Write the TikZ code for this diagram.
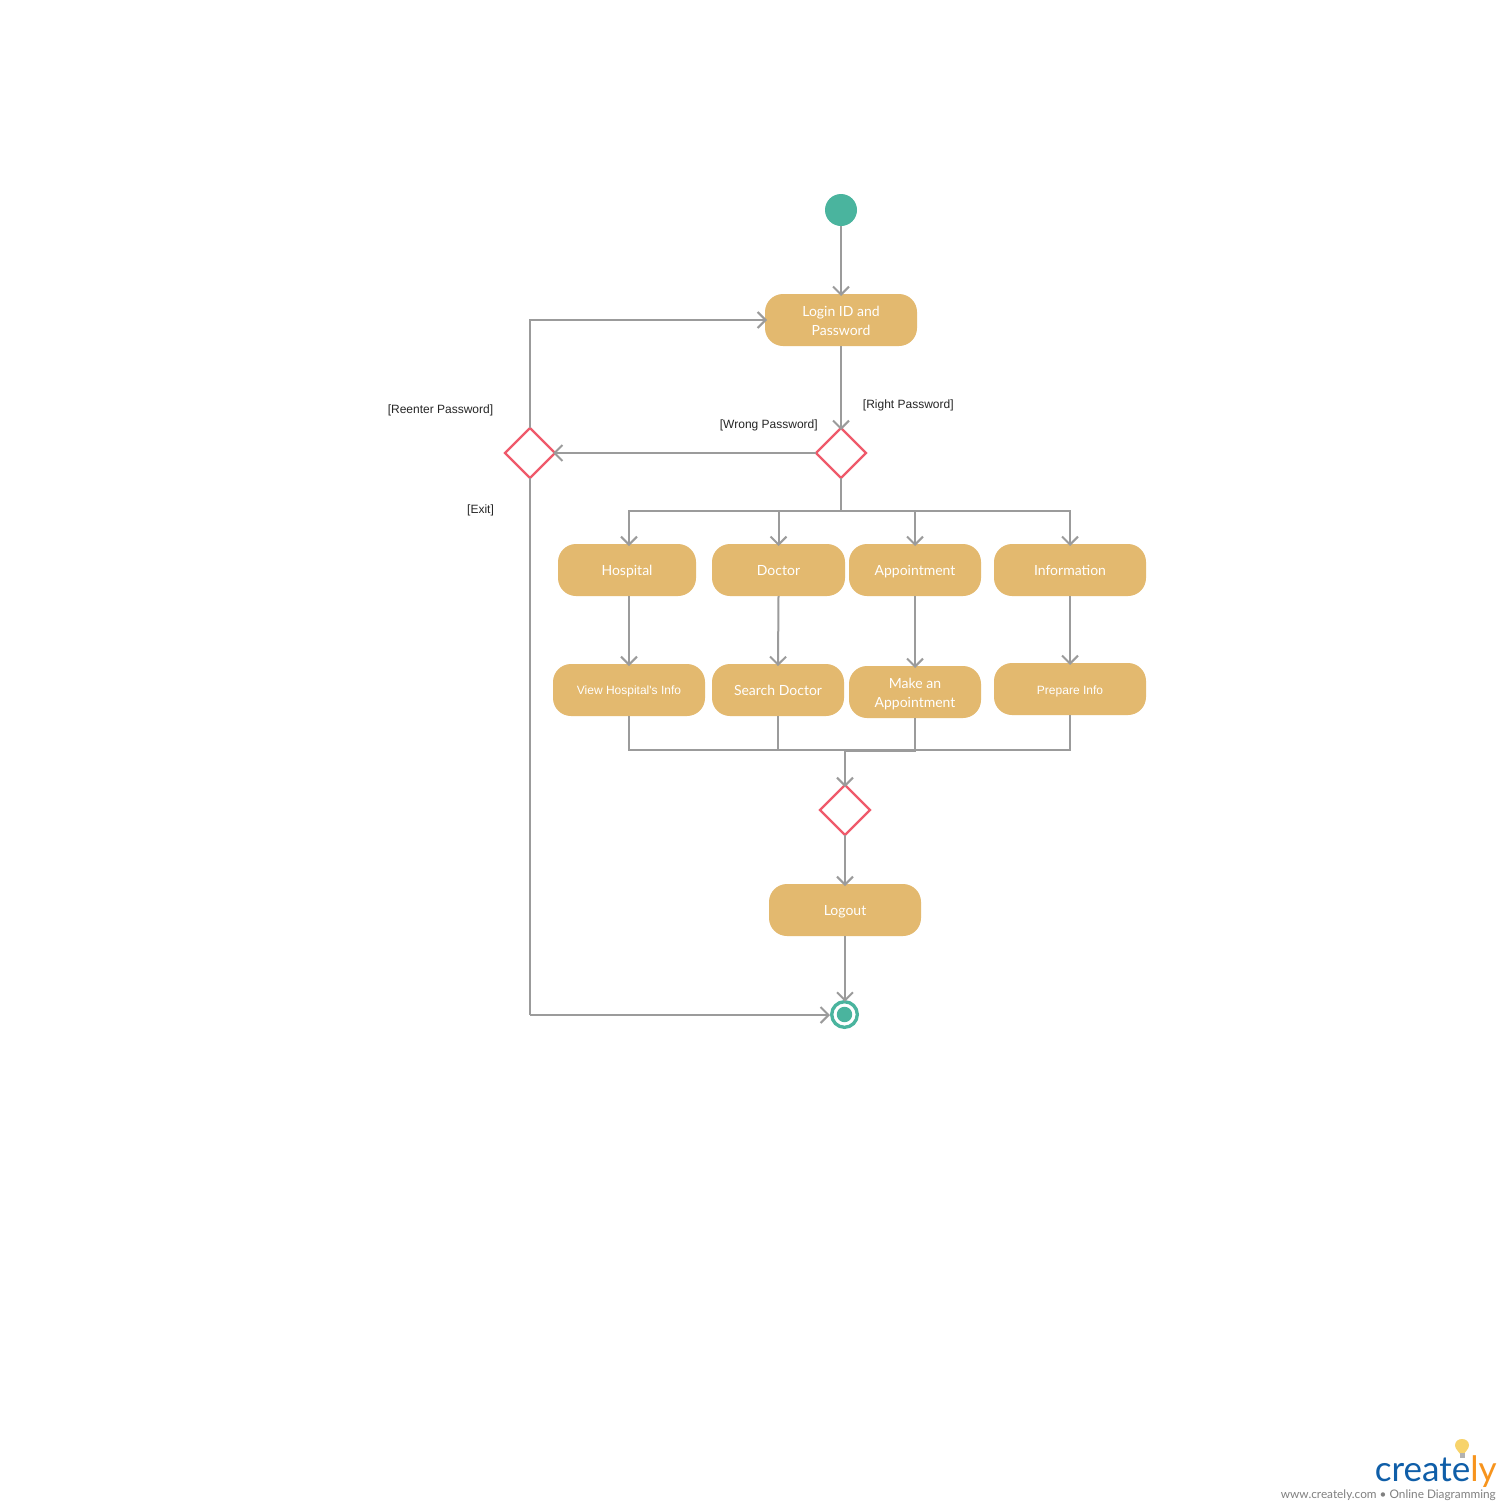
\documentclass[tikz,border=0pt]{standalone}
\usepackage{fontspec}
\setmainfont{Lato}
\newfontfamily\labelfont{Liberation Sans}
\usetikzlibrary{arrows.meta,shapes.geometric,calc}
\definecolor{boxfill}{HTML}{E3B96F}
\definecolor{teal}{HTML}{4AB49E}
\definecolor{linegray}{HTML}{9B9B9B}
\definecolor{redline}{HTML}{EF5A6B}
\definecolor{logoblue}{HTML}{0F5EA8}
\definecolor{logoorange}{HTML}{F7941D}
\definecolor{bulb}{HTML}{F7D36B}
\definecolor{logogray}{HTML}{808080}
\tikzset{
  actbox/.style={draw=none,fill=boxfill,rounded corners=13.5pt,inner sep=0pt,outer sep=0pt,
    minimum height=39pt,minimum width=#1*0.75pt,text=white,align=center,
    font=\fontsize{10.5pt}{14.25pt}\selectfont},
  oneline/.style={text height=7.6pt,text depth=0pt},
  smalltext/.style={font=\labelfont\fontsize{9pt}{11pt}\selectfont,text height=6.5pt,text depth=0pt},
  decision/.style={diamond,draw=redline,fill=white,line width=1.7pt,aspect=1,inner sep=0pt,outer sep=0pt,minimum size=37.5pt},
  conn/.style={draw=linegray,line width=1.5pt},
  flow/.style={conn,shorten >=-1.5pt,-{Straight Barb[length=6pt,width=12pt,line width=1.5pt]}},
  guard/.style={font=\labelfont\fontsize{9pt}{11pt}\selectfont,text=black!85,inner sep=0pt}
}
\begin{document}
\begin{tikzpicture}[x=0.75pt,y=-0.75pt]
\useasboundingbox (0,0) rectangle (1510,1510);
\fill[white] (0,0) rectangle (1510,1510);

% nodes
\node[circle,fill=teal,inner sep=0pt,outer sep=0pt,minimum size=24pt] (start) at (841,210) {};
\node[actbox=152] (login) at (841,320) {\rule{0pt}{9.1pt}Login ID and\\Password};
\node[decision] (d1) at (841,453) {};
\node[decision] (d2) at (530,453) {};
\node[actbox=138,oneline] (hospital) at (627,570) {Hospital};
\node[actbox=133,oneline] (doctor) at (778.5,570) {Doctor};
\node[actbox=132,oneline] (appointment) at (915,570) {Appointment};
\node[actbox=152,oneline] (information) at (1070,570) {Information};
\node[actbox=152,smalltext] (view) at (629,690) {View Hospital's Info};
\node[actbox=132,oneline] (search) at (778,690) {Search Doctor};
\node[actbox=132] (make) at (915,692) {\rule{0pt}{10.6pt}Make an\\Appointment};
\node[actbox=152,smalltext,text height=8pt] (prepare) at (1070,689) {Prepare Info};
\node[decision] (d3) at (845,810) {};
\node[actbox=152,oneline] (logout) at (845,910) {Logout};
\node[circle,draw=teal,fill=white,line width=2.5pt,inner sep=0pt,outer sep=0pt,minimum size=19.2pt] (stop) at (844.5,1014.5) {};
\fill[teal] (stop.center) circle (5.8pt);

% guards
\node[guard] (gReenter) at (440.5,410) {[Reenter Password]};
\node[guard] (gRight) at (908.3,405) {[Right Password]};
\node[guard] (gWrong) at (768.8,425) {[Wrong Password]};
\node[guard] (gExit) at (480.5,510) {[Exit]};

% junctions
\coordinate (busT) at (841,511);
\coordinate (busB) at (845,750);
\coordinate (busM) at (845,751);
\coordinate (exitCorner) at (530,1015);
\coordinate (stopIn) at (830,1015);

% connectors
\draw[flow] (start) -- (login);
\draw[flow] (login) -- (d1);
\draw[flow] (d1) -- (d2);
\draw[flow] (d2.north) |- (login.west);
\draw[conn] (d2.south) -- (exitCorner);
\draw[flow,shorten >=0pt] (exitCorner) -- (stopIn);
\draw[conn] (d1.south) -- (busT);
\draw[flow] (busT) -| (view.north |- hospital.north);
\draw[flow] (busT) -| (doctor.north);
\draw[flow] (busT) -| (appointment.north);
\draw[flow] (busT) -| (information.north);
\draw[flow] (view.north |- hospital.south) -- (view.north);
\draw[flow] (doctor.south) -- (search.north);
\draw[flow] (appointment.south) -- (make.north);
\draw[flow] (information.south) -- (prepare.north);
\draw[conn] (view.south) |- (busB);
\draw[conn] (search.south) |- (busB);
\draw[conn] (prepare.south) |- (busB);
\draw[conn] (make.south) |- (busM);
\draw[flow] (busB) -- (d3.north);
\draw[flow] (d3.south) -- (logout.north);
\draw[flow,shorten >=0pt] (logout.south) -- (logout.south |- stop.north);

% logo
\fill[bulb] (1462,1457) .. controls (1459.5,1452) and (1455,1449) .. (1455,1445.5)
  .. controls (1455,1441.5) and (1458,1439) .. (1462,1439)
  .. controls (1466,1439) and (1469,1441.5) .. (1469,1445.5)
  .. controls (1469,1449) and (1464.5,1452) .. (1462,1457) -- cycle;
\fill[gray!60] (1459.5,1453) rectangle (1464.5,1458);
\node[anchor=base east,inner sep=0pt,font=\fontsize{26.3pt}{30pt}\selectfont] (logo) at (1497,1481)
  {\textcolor{logoblue}{create}\textcolor{logoorange}{ly}};
\node[anchor=base east,inner sep=0pt,text=logogray,font=\fontsize{8.86pt}{11pt}\selectfont] (tagline) at (1496,1498)
  {www.creately.com • Online Diagramming};
\end{tikzpicture}
\end{document}
